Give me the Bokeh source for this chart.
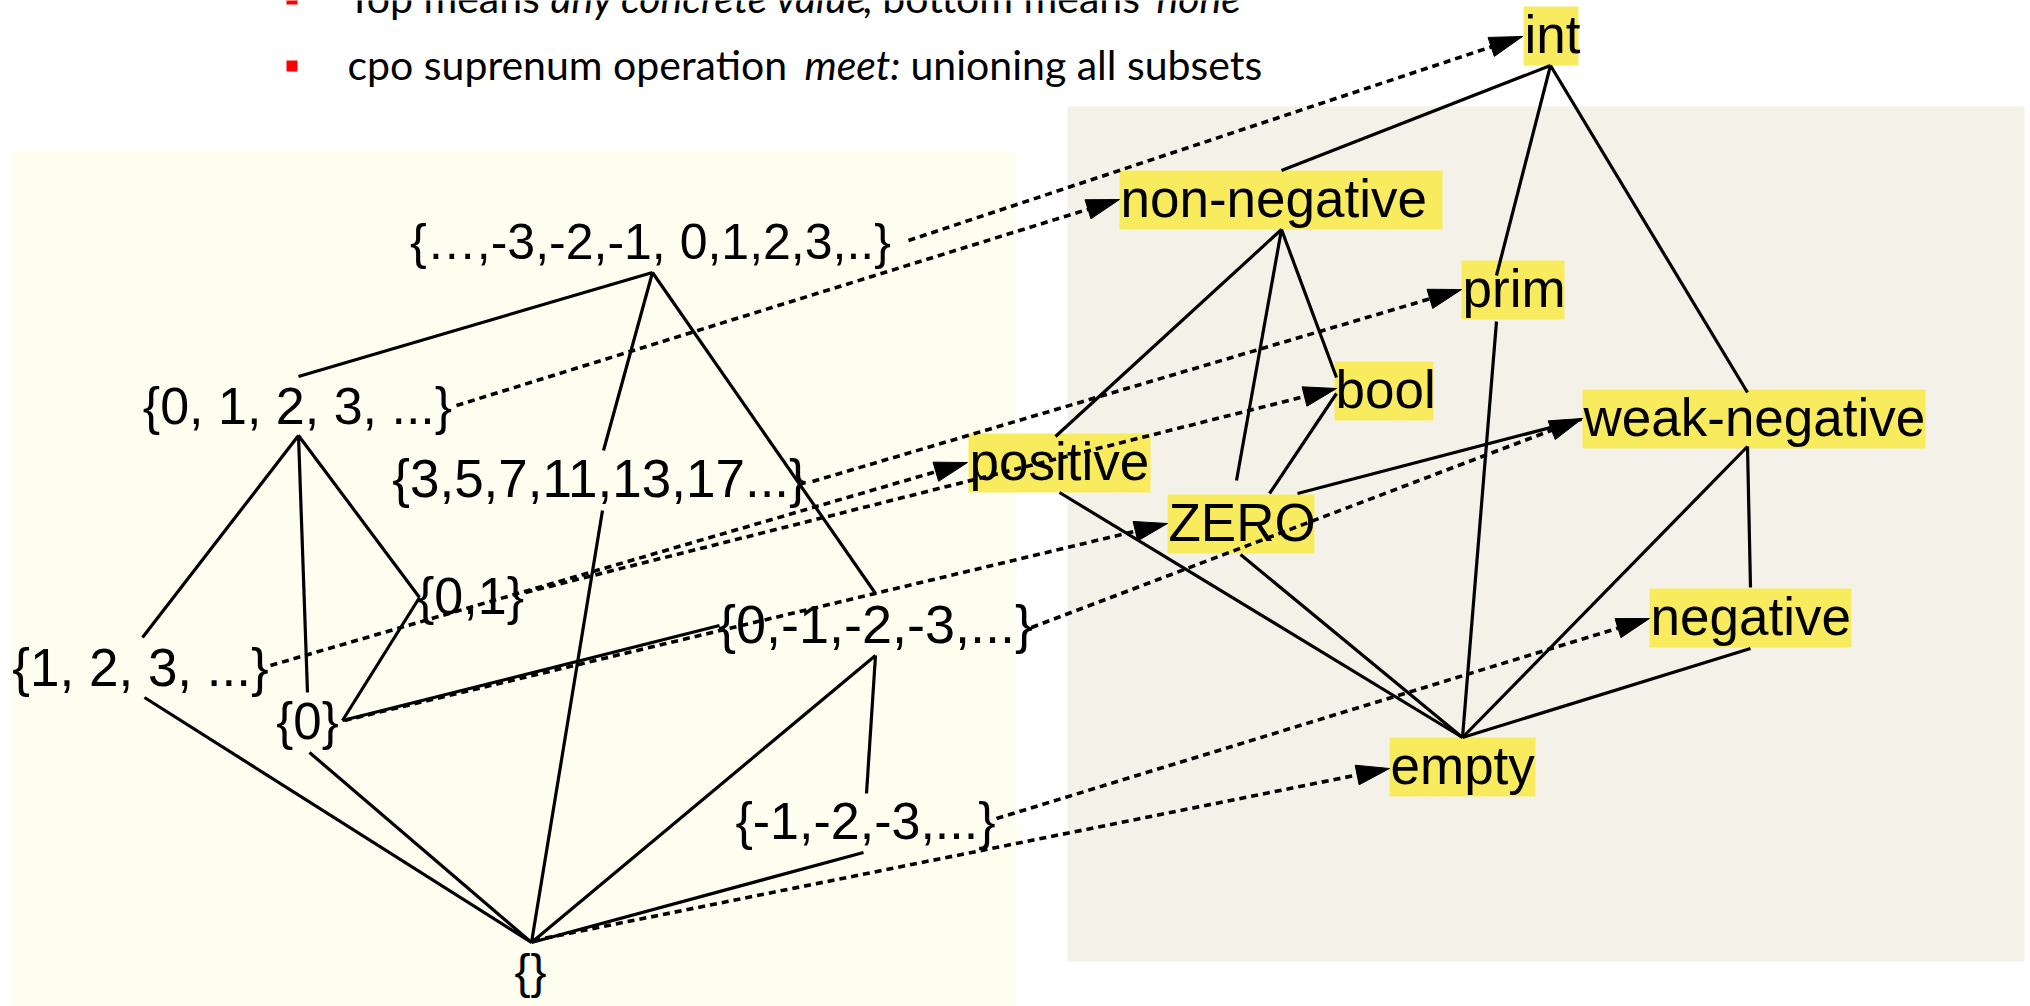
import math
from bokeh.plotting import figure
from bokeh.models import Range1d, ColumnDataSource
from bokeh.embed import file_html
from bokeh.resources import INLINE
from bokeh.core.properties import value

# ---------------- data ----------------
# bullet lines (segments: text, x, italic?)
bullet1 = [("Top means", 347, False), ("any concrete value", 550, True),
           (", bottom means", 862, False), ("none", 1156, True)]
bullet2 = [("cpo suprenum operation", 347, False), ("meet:", 804, True),
           ("unioning all subsets", 910, False)]
bullet_baselines = [12, 79]

# left lattice: concrete sets (label, centre x, baseline y, font px)
left_labels = ["{…,-3,-2,-1, 0,1,2,3,..}", "{0, 1, 2, 3, ...}", "{3,5,7,11,13,17...}",
               "{0,1}", "{1, 2, 3, ...}", "{0}", "{0,-1,-2,-3,...}", "{-1,-2,-3,...}", "{}"]
left_cx = [650, 297, 599, 470, 140, 307, 875, 865, 530]
left_base = [260, 425, 498, 615, 687, 740, 643, 840, 989]
left_size = [50, 52, 53, 52, 53, 51, 54, 52, 48]

# right lattice: abstract types (label, box left, box top, box width)
right_labels = ["int", "non-negative", "prim", "bool", "weak-negative",
                "positive", "ZERO", "negative", "empty"]
right_left = [1523, 1119, 1461, 1334, 1582, 968, 1167, 1649, 1389]
right_top = [6, 170, 260, 361, 389, 433, 494, 588, 737]
right_w = [55, 323, 103, 99, 343, 182, 147, 202, 146]

# anchor points of lattice nodes
anchor = {
    "top_b": (652, 272), "n0123_t": (298, 376), "n0123_b": (298, 435),
    "prim_t": (603, 450), "prim_b": (602, 510), "n01_l": (419, 597),
    "n123_t": (142, 637), "n123_b": (144, 697), "n0_t": (307, 692),
    "n0_r": (342, 720), "n0_b": (309, 752), "nn0_l": (719, 625),
    "nn0_t": (875, 593), "nn0_b": (875, 655), "nn_t": (866, 793),
    "nn_b": (863, 852), "e_t": (531, 942),
    "int_b": (1550, 65), "nonneg_t": (1281, 170), "nonneg_b": (1281, 229),
    "prm_t": (1496, 275), "prm_b": (1496, 321), "wneg_t": (1747, 392),
    "wneg_l": (1581, 419), "wneg_b": (1747, 446), "bool_l": (1336, 377),
    "bool_b": (1336, 393), "pos_t": (1055, 436), "pos_b": (1059, 492),
    "zero_t": (1236, 480), "zero_t2": (1269, 493), "zero_tr": (1297, 493),
    "zero_b": (1240, 554), "neg_t": (1750, 587), "neg_b": (1750, 648),
    "empty_t": (1462, 737),
}
solid_edges = [
    ("top_b", "n0123_t"), ("top_b", "prim_t"), ("top_b", "nn0_t"),
    ("prim_b", "e_t"), ("n0123_b", "n123_t"), ("n0123_b", "n0_t"),
    ("n0123_b", "n01_l"), ("n01_l", "n0_r"), ("n0_r", "nn0_l"),
    ("n123_b", "e_t"), ("n0_b", "e_t"), ("nn0_b", "e_t"),
    ("nn0_b", "nn_t"), ("nn_b", "e_t"),
    ("int_b", "nonneg_t"), ("int_b", "prm_t"), ("int_b", "wneg_t"),
    ("prm_b", "empty_t"), ("nonneg_b", "pos_t"), ("nonneg_b", "zero_t"),
    ("nonneg_b", "bool_l"), ("bool_b", "zero_t2"), ("zero_tr", "wneg_l"),
    ("wneg_b", "neg_t"), ("wneg_b", "empty_t"), ("neg_b", "empty_t"),
    ("zero_b", "empty_t"), ("pos_b", "empty_t"),
]
# abstraction arrows: (from x, from y) -> (tip x, tip y)
arrow_from = [(908, 240), (456, 405), (812, 481), (525, 592), (270, 665),
              (344, 720), (1031, 627), (996, 818), (533, 940)]
arrow_to = [(1522, 36), (1119, 199), (1461, 289), (1336, 388), (967, 462),
            (1167, 523), (1582, 418), (1649, 618), (1389, 768)]

# baseline correction for the svg text renderer (fraction of font size)
BASE_FIX = 0.37

# ---------------- figure ----------------
W, H = 2030, 1006
p = figure(width=W, height=H, x_range=Range1d(0, W), y_range=Range1d(H, 0),
           output_backend="svg", toolbar_location=None, min_border=0)
p.axis.visible = False
p.grid.visible = False
p.outline_line_color = None
p.background_fill_color = "white"
p.border_fill_color = "white"

# panels
p.quad(left=[10], right=[1016], top=[151], bottom=[1010], fill_color="#FEFEF0", line_color=None)
p.quad(left=[1067], right=[2024], top=[106], bottom=[961], fill_color="#F4F2E8", line_color=None)

# bullets
p.quad(left=[286, 286], right=[297, 297], top=[-7, 60], bottom=[4, 71], fill_color="#FF0000", line_color=None)
BFS = 41
for segs, base in zip([bullet1, bullet2], bullet_baselines):
    for txt, x, it in segs:
        p.text(x=[x], y=[base - BASE_FIX * BFS], text=[txt], text_font=value("Lato"),
               text_font_size=f"{BFS}px",
               text_font_style="italic" if it else "normal", text_baseline="alphabetic",
               text_align="left", text_color="black")

# yellow boxes
BOX_H = 59
p.quad(left=right_left, right=[l + w for l, w in zip(right_left, right_w)],
       top=right_top, bottom=[t + BOX_H for t in right_top],
       fill_color="#F9EB5E", line_color=None)

# solid lattice edges
p.segment(x0=[anchor[a][0] for a, b in solid_edges], y0=[anchor[a][1] for a, b in solid_edges],
          x1=[anchor[b][0] for a, b in solid_edges], y1=[anchor[b][1] for a, b in solid_edges],
          line_color="black", line_width=3.2)

# dotted arrows
HL, HW = 33, 10
sx, sy, ex, ey, heads_x, heads_y = [], [], [], [], [], []
for (x0, y0), (x1, y1) in zip(arrow_from, arrow_to):
    d = math.hypot(x1 - x0, y1 - y0)
    ux, uy = (x1 - x0) / d, (y1 - y0) / d
    bx, by = x1 - HL * ux, y1 - HL * uy
    px, py = -uy, ux
    sx.append(x0); sy.append(y0); ex.append(bx + 2 * ux); ey.append(by + 2 * uy)
    heads_x.append([x1, bx + HW * px, bx - HW * px])
    heads_y.append([y1, by + HW * py, by - HW * py])
p.segment(x0=sx, y0=sy, x1=ex, y1=ey, line_color="black", line_width=3.6, line_dash="7 5")
p.patches(xs=heads_x, ys=heads_y, fill_color="black", line_color="black", line_width=1)

# left labels
src_l = ColumnDataSource(dict(x=left_cx, y=[b - BASE_FIX * s for b, s in zip(left_base, left_size)],
                              text=left_labels, size=[f"{s}px" for s in left_size]))
p.text(x="x", y="y", text="text", source=src_l, text_font=value("Liberation Sans"),
       text_font_size="size", text_align="center", text_baseline="alphabetic", text_color="black")

# right labels
RFS = 53
src_r = ColumnDataSource(dict(x=[l + 1 for l in right_left],
                              y=[t + 48 - BASE_FIX * RFS for t in right_top],
                              text=right_labels))
p.text(x="x", y="y", text="text", source=src_r, text_font=value("Liberation Sans"),
       text_font_size=f"{RFS}px", text_align="left", text_baseline="alphabetic", text_color="black")

open("out.html", "w").write(file_html(p, INLINE))
